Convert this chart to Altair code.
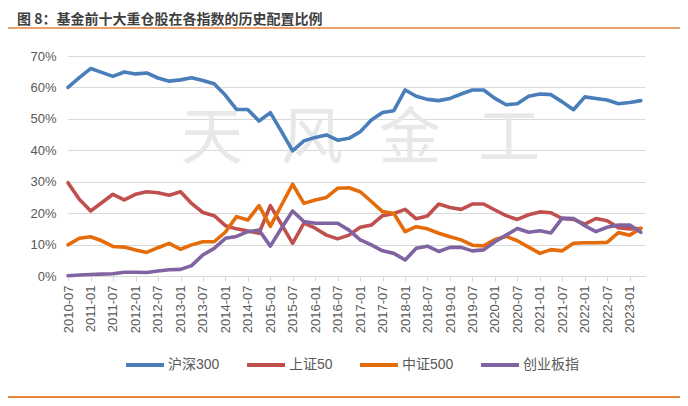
import altair as alt
import pandas as pd

# Quarterly observation dates (2010-07 ... 2023-04)
dates = [d.strftime("%Y-%m-%d") for d in pd.date_range("2010-07-01", periods=52, freq="QS-JAN")]

series_names = ["沪深300", "上证50", "中证500", "创业板指"]

hs300 = [60.0, 63.1, 66.0, 64.8, 63.5, 64.9, 64.3, 64.6, 63.0, 62.0,
         62.4, 63.1, 62.2, 61.2, 57.5, 53.0, 53.0, 49.3, 52.0, 46.0,
         39.8, 43.0, 44.1, 44.9, 43.2, 43.8, 45.9, 49.6, 52.0, 52.6,
         59.2, 57.2, 56.2, 55.8, 56.5, 57.9, 59.2, 59.2, 56.5, 54.5,
         54.8, 57.2, 57.9, 57.7, 55.4, 52.9, 57.0, 56.5, 56.0, 54.8,
         55.2, 55.8]
sz50 = [29.7, 24.4, 20.7, 23.3, 26.0, 24.2, 26.0, 26.8, 26.5, 25.7,
        26.8, 23.1, 20.2, 19.2, 16.0, 15.0, 14.3, 13.6, 22.4, 16.5,
        10.4, 16.8, 15.2, 13.0, 11.8, 13.0, 15.5, 16.2, 19.2, 19.9,
        21.2, 18.2, 19.1, 22.9, 21.8, 21.2, 22.9, 22.9, 21.0, 19.2,
        18.0, 19.5, 20.4, 20.1, 18.3, 18.0, 16.5, 18.3, 17.6, 15.4,
        15.0, 15.1]
zz500 = [9.9, 12.0, 12.5, 11.2, 9.4, 9.2, 8.3, 7.5, 9.0, 10.4,
         8.5, 9.9, 10.9, 10.9, 14.0, 18.9, 17.8, 22.4, 15.8, 22.5,
         29.2, 23.1, 24.2, 25.0, 27.9, 28.1, 26.8, 23.7, 20.5, 19.9,
         14.1, 15.7, 15.0, 13.6, 12.5, 11.5, 9.8, 9.6, 11.6, 12.6,
         11.2, 9.2, 7.2, 8.4, 8.0, 10.4, 10.6, 10.6, 10.7, 13.8,
         13.0, 15.2]
cyb = [0.1, 0.3, 0.5, 0.6, 0.7, 1.2, 1.2, 1.1, 1.6, 2.0,
       2.1, 3.3, 6.7, 8.8, 12.0, 12.6, 14.1, 14.6, 9.5, 15.2,
       20.7, 17.3, 16.8, 16.8, 16.8, 14.6, 11.5, 9.9, 8.0, 7.2,
       5.1, 8.8, 9.5, 7.8, 9.1, 9.1, 8.0, 8.3, 10.9, 13.0,
       15.1, 13.9, 14.4, 13.7, 18.4, 18.3, 16.0, 14.1, 15.5, 16.2,
       16.2, 13.9]

y_ticks = [0, 10, 20, 30, 40, 50, 60, 70]
x_tick_dates = [alt.DateTime(year=2010 + (k + 1) // 2, month=7 if k % 2 == 0 else 1, date=1, utc=True)
                for k in range(26)]

colors = ["#4A7EBB", "#C0504D", "#E46C0A", "#8064A2"]
title_text = "图 8：基金前十大重仓股在各指数的历史配置比例"
accent = "#E8833A"

rows = []
for name, vals in zip(series_names, [hs300, sz50, zz500, cyb]):
    for d, v in zip(dates, vals):
        rows.append({"date": d, "series": name, "value": v})
df = pd.DataFrame(rows)

lines = alt.Chart(df).mark_line(strokeWidth=3.6, strokeCap="round", strokeJoin="round").encode(
    x=alt.X("date:T",
            scale=alt.Scale(type="utc",
                            domain=[alt.DateTime(year=2010, month=7, date=1, utc=True),
                                    alt.DateTime(year=2023, month=5, date=5, utc=True)]),
            axis=alt.Axis(values=x_tick_dates, format="%Y-%m", labelAngle=270,
                          labelAlign="right", labelBaseline="middle", grid=False,
                          domainColor="#D9D9D9", tickColor="#D9D9D9", tickSize=5,
                          labelPadding=4, labelFont="Liberation Sans", labelFontSize=13,
                          labelColor="#595959", labelOverlap=False, title=None)),
    y=alt.Y("value:Q",
            scale=alt.Scale(domain=[0, 70], nice=False),
            axis=alt.Axis(values=y_ticks, labelExpr="datum.value + '%'", grid=True,
                          gridColor="#D9D9D9", domain=False, ticks=False, labelPadding=12,
                          labelFont="Liberation Sans", labelFontSize=13, labelColor="#595959",
                          title=None)),
    color=alt.Color("series:N",
                    scale=alt.Scale(domain=series_names, range=colors),
                    sort=series_names,
                    legend=alt.Legend(orient="none", legendX=56, legendY=288,
                                      direction="horizontal", title=None, gridAlign="none",
                                      symbolType="stroke", symbolStrokeWidth=4, symbolSize=1444,
                                      labelFont="Liberation Sans, Noto Sans CJK SC",
                                      labelFontSize=14, labelColor="#595959", labelOffset=2,
                                      columnPadding=19, labelLimit=200)),
    order=alt.Order("date:T"),
)

one = pd.DataFrame({"a": [0]})
wm_chars = ["天", "风", "金", "工"]
wm_x = [144, 244, 342, 441]
watermark = [
    alt.Chart(one).mark_text(text=ch, font="Noto Sans CJK SC", fontSize=62, color="#E8E8E8",
                             align="center", baseline="middle").encode(x=alt.value(xv), y=alt.value(84))
    for ch, xv in zip(wm_chars, wm_x)
]

title = alt.Chart(one).mark_text(text=title_text, font="Noto Sans CJK SC", fontSize=14,
                                 fontWeight="bold", color="#3F3F3F", align="left",
                                 baseline="middle").encode(x=alt.value(-51), y=alt.value(-36.5))
top_rule = alt.Chart(one).mark_rule(color=accent, strokeWidth=1.3).encode(
    x=alt.value(-63), x2=alt.value(615), y=alt.value(-28))
bottom_rule = alt.Chart(one).mark_rule(color=accent, strokeWidth=2).encode(
    x=alt.value(-63), x2=alt.value(618), y=alt.value(341))

chart = alt.layer(*watermark, lines, title, top_rule, bottom_rule).properties(
    width=577, height=220,
    padding={"left": 60, "top": 48, "right": 35, "bottom": 122},
    autosize=alt.AutoSizeParams(type="none"),
    background="white",
).configure_view(stroke=None)

chart.save("out.html", embed_options={"renderer": "svg", "actions": False})
